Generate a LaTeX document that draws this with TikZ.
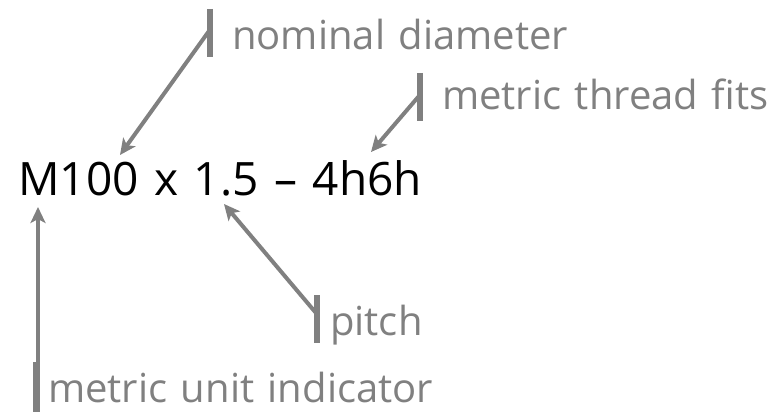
\documentclass[tikz,border=0pt]{standalone}
\usepackage{fontspec}
\setmainfont{Open Sans}
\newfontfamily\codefont[WordSpace=1.3,Ligatures=TeX]{Open Sans}
\usetikzlibrary{arrows.meta}
\definecolor{lbl}{HTML}{808080}
\tikzset{
  main/.style={anchor=base west,inner sep=0pt,font=\codefont\fontsize{46}{50}\selectfont,text=black},
  tag/.style={anchor=base west,inner sep=0pt,font=\fontsize{40}{44}\selectfont,text=lbl},
  bar/.style={draw=lbl,line width=6pt},
  arr/.style={draw=lbl,line width=4pt,-{Stealth[length=16pt,width=15pt,inset=4pt]}}
}
\begin{document}
\begin{tikzpicture}[x=1pt,y=-1pt]
\useasboundingbox (0,0) rectangle (779,412);
\node[main] (code) at (18,195) {M100 x 1.5 – 4h6h};
\node[tag] (nd) at (232,50) {nominal diameter};
\node[tag] (mtf) at (442,110) {metric thread fits};
\node[tag] (pt) at (330,335) {pitch};
\node[tag] (mui) at (48,402) {metric unit indicator};
% bars
\coordinate (ndA) at (210,9);   \coordinate (ndB) at (210,57);
\coordinate (mtfA) at (420,73); \coordinate (mtfB) at (420,121);
\coordinate (ptA) at (317,295); \coordinate (ptB) at (317,343);
\coordinate (muiA) at (36,362); \coordinate (muiB) at (36,412);
\draw[bar] (ndA) -- (ndB);
\draw[bar] (mtfA) -- (mtfB);
\draw[bar] (ptA) -- (ptB);
\draw[bar] (muiA) -- (muiB);
% arrows
\coordinate (ndS) at (209,31);  \coordinate (ndT) at (120,155);
\coordinate (mtfS) at (419,96); \coordinate (mtfT) at (371,152);
\coordinate (ptS) at (316,313); \coordinate (ptT) at (224,204);
\coordinate (muiS) at (38,412); \coordinate (muiT) at (38,207);
\draw[arr] (ndS) -- (ndT);
\draw[arr] (mtfS) -- (mtfT);
\draw[arr] (ptS) -- (ptT);
\draw[arr] (muiS) -- (muiT);
\end{tikzpicture}
\end{document}
